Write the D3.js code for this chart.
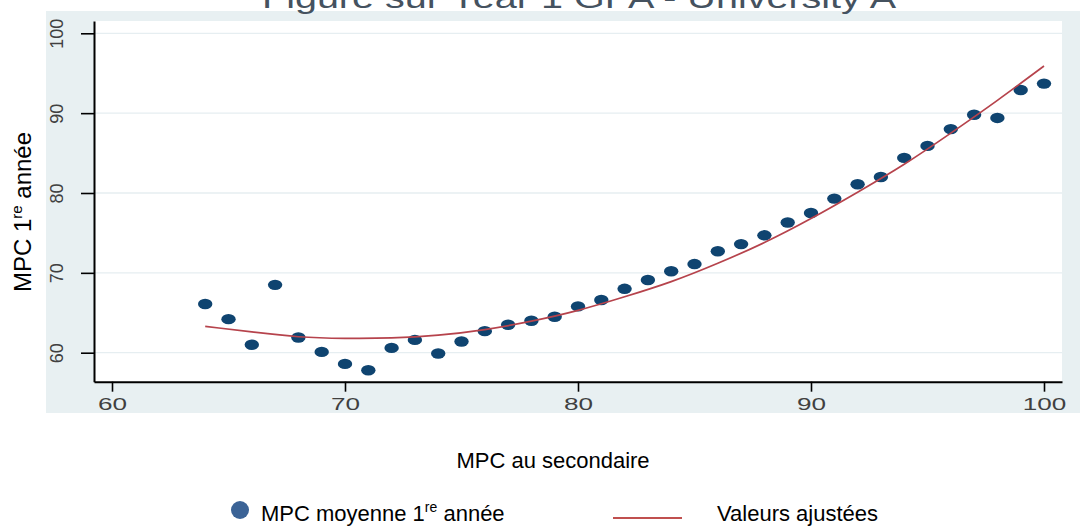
<!DOCTYPE html>
<html><head><meta charset="utf-8">
<script src="https://cdn.jsdelivr.net/npm/d3@7"></script>
<style>
body{margin:0;background:#fff}
svg{display:block}
text{font-family:"Liberation Sans",Arial,Helvetica,sans-serif}
</style>
</head><body>
<svg id="chart" width="1080" height="527"></svg>
<script>
// ---- data ----
const titleText = "Figure sur Year 1 GPA - University A";
const xTitle = "MPC au secondaire";
const yTitleParts = ["MPC 1", "re", " année"];
const legendScatter = ["MPC moyenne 1", "re", " année"];
const legendFit = "Valeurs ajustées";

const xTicks = [60, 70, 80, 90, 100];
const yTicks = [60, 70, 80, 90, 100];

const mpcSecondaire = [64,65,66,67,68,69,70,71,72,73,74,75,76,77,78,79,80,81,82,83,84,85,86,87,88,89,90,91,92,93,94,95,96,97,98,99,100];
const mpcMoyenne = [66.1,64.2,61.0,68.5,61.9,60.1,58.6,57.8,60.6,61.6,59.9,61.4,62.7,63.5,64.0,64.5,65.8,66.6,68.0,69.1,70.2,71.1,72.7,73.6,74.7,76.3,77.5,79.3,81.1,82.0,84.4,85.9,88.0,89.8,89.4,92.9,93.7];

const fitX = [64,66,68,70,72,74,76,78,80,82,84,86,88,90,92,94,96,98,100];
const fitY = [63.3,62.6,62.0,61.8,61.85,62.2,62.9,63.95,65.3,67.0,68.9,71.2,73.8,76.8,80.1,83.6,87.5,91.6,95.9];

// ---- layout ----
const svg = d3.select("#chart");
const plotL = 94, plotR = 1062, plotT = 21, plotB = 381.7;

const xs = d3.scaleLinear().domain([60, 100]).range([112, 1044]);
const ys = d3.scaleLinear().domain([60, 100]).range([352.7, 33.3]);
const xAxisScale = xs.copy().domain([xs.invert(plotL), xs.invert(plotR)]).range([plotL, plotR]);
const yAxisScale = ys.copy().domain([ys.invert(plotB), ys.invert(plotT)]).range([plotB, plotT]);

// panel background
svg.append("rect").attr("x", 46).attr("y", 11).attr("width", 1034).attr("height", 402).attr("fill", "#e8f0f2");

// title (its top is cut off by the page edge, as in the reference)
svg.append("text").attr("x", 579).attr("y", 8).attr("text-anchor", "middle")
  .attr("font-size", 30).attr("fill", "#45525f")
  .attr("textLength", 634).attr("lengthAdjust", "spacingAndGlyphs")
  .text(titleText);

// plot region
svg.append("rect").attr("x", plotL).attr("y", plotT).attr("width", plotR - plotL).attr("height", plotB - plotT).attr("fill", "#ffffff");

// grid lines
svg.append("g").selectAll("line").data(yTicks).join("line")
  .attr("x1", plotL).attr("x2", plotR)
  .attr("y1", d => ys(d)).attr("y2", d => ys(d))
  .attr("stroke", "#e6eef1").attr("stroke-width", 1.3);

// scatter points
svg.append("g").selectAll("ellipse").data(mpcSecondaire).join("ellipse")
  .attr("cx", (d) => xs(d))
  .attr("cy", (d, i) => ys(mpcMoyenne[i]))
  .attr("rx", 7.2).attr("ry", 5.2)
  .attr("fill", "#0f4470");

// fitted line
const line = d3.line().x(d => xs(d[0])).y(d => ys(d[1])).curve(d3.curveNatural);
svg.append("path").datum(fitX.map((x, i) => [x, fitY[i]]))
  .attr("d", line).attr("fill", "none")
  .attr("stroke", "#b6434c").attr("stroke-width", 1.7);

// y axis
const yAxis = svg.append("g").attr("transform", `translate(${plotL},0)`)
  .call(d3.axisLeft(yAxisScale).tickValues(yTicks).tickSize(13).tickSizeOuter(0).tickFormat(d3.format("d")));
yAxis.select(".domain").attr("stroke", "#000").attr("stroke-width", 2);
yAxis.selectAll(".tick line").attr("stroke", "#000").attr("stroke-width", 1.6);
yAxis.selectAll(".tick text")
  .attr("x", null).attr("dy", null)
  .attr("transform", "translate(-31,0) rotate(-90)")
  .attr("text-anchor", "middle")
  .attr("font-size", 18).attr("fill", "#404040");

// x axis
const xAxis = svg.append("g").attr("transform", `translate(0,${plotB})`)
  .call(d3.axisBottom(xAxisScale).tickValues(xTicks).tickSize(10).tickSizeOuter(0).tickFormat(d3.format("d")));
xAxis.select(".domain").attr("stroke", "#000").attr("stroke-width", 2);
xAxis.selectAll(".tick line").attr("stroke", "#000").attr("stroke-width", 1.6);
xAxis.selectAll(".tick text")
  .attr("y", 28.5).attr("dy", null)
  .attr("font-size", 16).attr("fill", "#404040")
  .attr("textLength", d => String(d).length * 14.5).attr("lengthAdjust", "spacingAndGlyphs");

// axis titles
svg.append("text").attr("x", 553).attr("y", 468).attr("text-anchor", "middle")
  .attr("font-size", 22).attr("fill", "#000").text(xTitle);

const yt = svg.append("text").attr("transform", "translate(31,212) rotate(-90)")
  .attr("text-anchor", "middle").attr("font-size", 24).attr("fill", "#000");
yt.append("tspan").text(yTitleParts[0]);
yt.append("tspan").attr("font-size", 15).attr("dy", -9).text(yTitleParts[1]);
yt.append("tspan").attr("dy", 9).text(yTitleParts[2]);

// legend
svg.append("circle").attr("cx", 240).attr("cy", 510).attr("r", 9).attr("fill", "#3b6396");
const lt = svg.append("text").attr("x", 261).attr("y", 521).attr("font-size", 22).attr("fill", "#000");
lt.append("tspan").text(legendScatter[0]);
lt.append("tspan").attr("font-size", 14).attr("dy", -9).text(legendScatter[1]);
lt.append("tspan").attr("dy", 9).text(legendScatter[2]);

svg.append("line").attr("x1", 613).attr("x2", 682).attr("y1", 518).attr("y2", 518)
  .attr("stroke", "#c0504f").attr("stroke-width", 2.2);
svg.append("text").attr("x", 717).attr("y", 521).attr("font-size", 22).attr("fill", "#000").text(legendFit);
</script>
</body></html>
